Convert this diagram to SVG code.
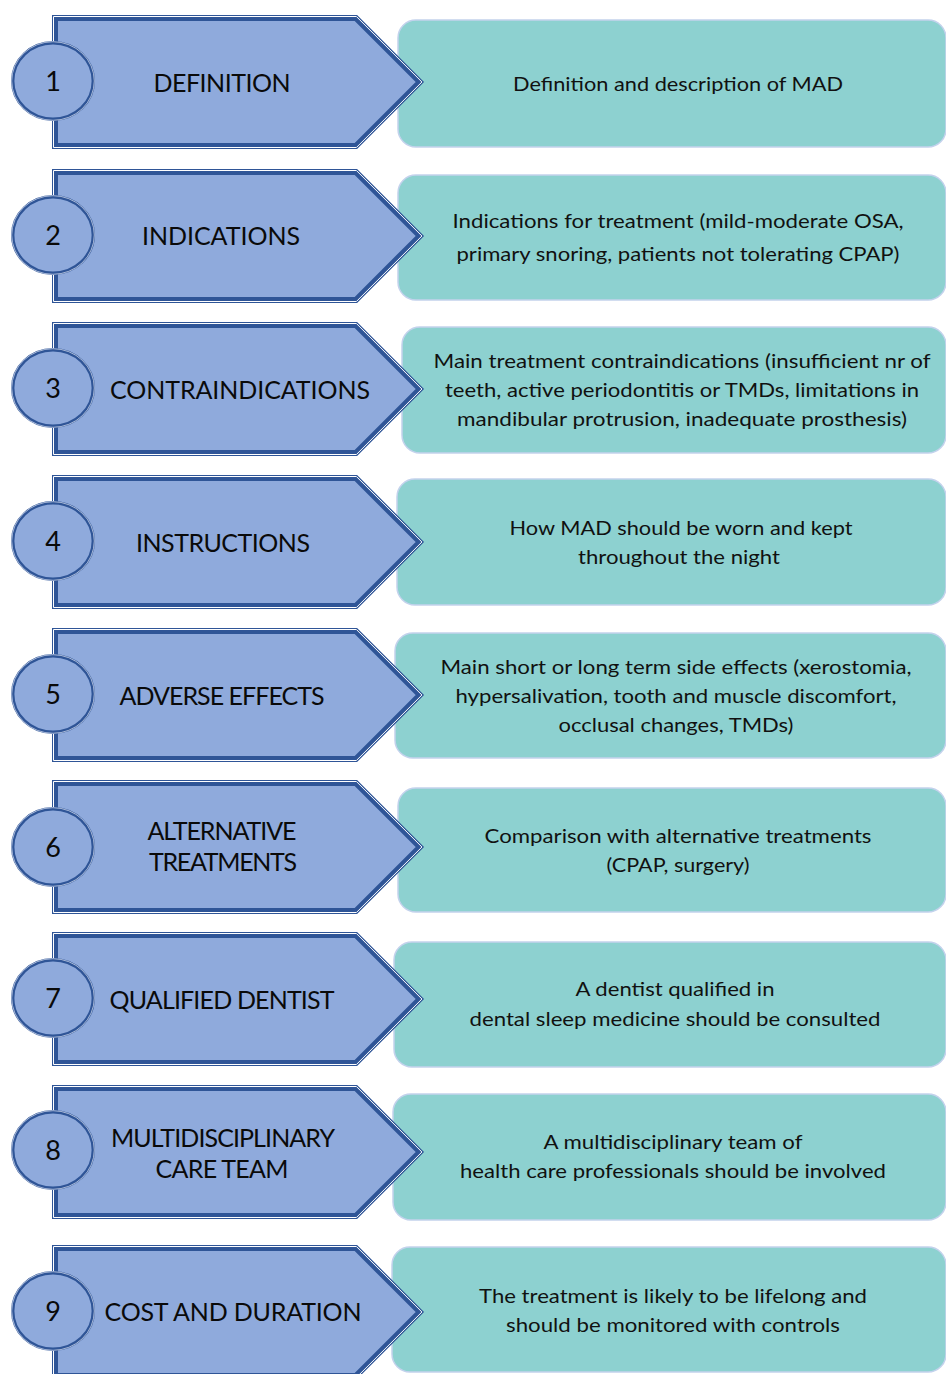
<svg xmlns="http://www.w3.org/2000/svg" xmlns:xlink="http://www.w3.org/1999/xlink" width="946" height="1374" viewBox="0 0 946 1374">
<style>
.box{fill:#8DD1D0;stroke:#C3D2EC;stroke-width:1.5}
.lbl{font-family:Lato,"Liberation Sans",sans-serif;font-size:25px;fill:#0a0a0a;text-anchor:middle}
.num{font-family:Lato,"Liberation Sans",sans-serif;font-size:27px;fill:#0a0a0a;text-anchor:middle}
.desc{font-family:Lato,"Open Sans","Liberation Sans",sans-serif;font-size:20px;fill:#111;text-anchor:middle}
</style>
<defs>
<g id="pent">
<polygon points="55,-64 355.8,-64 419.8,0 355.8,64 55,64" fill="#8FAADC" stroke="#2F5597" stroke-width="6" stroke-linejoin="miter"/>
<polygon points="53.5,-65.5 356.4,-65.5 421.9,0 356.4,65.5 53.5,65.5" fill="none" stroke="#ffffff" stroke-width="1" stroke-linejoin="miter"/>
</g>
<g id="badge">
<ellipse cx="53" cy="0" rx="40.3" ry="38.3" fill="#8FAADC" stroke="#2F5597" stroke-width="3.4"/>
<ellipse cx="53" cy="0" rx="41.3" ry="39.3" fill="none" stroke="#DCE4F4" stroke-width="0.7"/>
</g>
</defs>
<rect width="946" height="1374" fill="#ffffff"/>
<g id="connectors"/>

<g id="node1">
<rect class="box" x="398" y="20" width="548" height="127" rx="18"/>
<use xlink:href="#pent" href="#pent" y="82"/>
<use xlink:href="#badge" href="#badge" y="81"/>
<text class="num" x="53" y="91">1</text>
<text class="lbl" x="222" y="92" textLength="137" lengthAdjust="spacing">DEFINITION</text>
<text class="desc" x="678" y="91" textLength="330" lengthAdjust="spacingAndGlyphs">Definition and description of MAD</text>
</g>

<g id="node2">
<rect class="box" x="398" y="175" width="548" height="125" rx="18"/>
<use xlink:href="#pent" href="#pent" y="236"/>
<use xlink:href="#badge" href="#badge" y="235"/>
<text class="num" x="53" y="245">2</text>
<text class="lbl" x="221" y="245" textLength="158" lengthAdjust="spacing">INDICATIONS</text>
<text class="desc" x="678" y="228" textLength="451" lengthAdjust="spacingAndGlyphs">Indications for treatment (mild-moderate OSA,</text>
<text class="desc" x="678" y="261" textLength="443" lengthAdjust="spacingAndGlyphs">primary snoring, patients not tolerating CPAP)</text>
</g>

<g id="node3">
<rect class="box" x="402" y="327" width="544" height="126" rx="18"/>
<use xlink:href="#pent" href="#pent" y="389"/>
<use xlink:href="#badge" href="#badge" y="388"/>
<text class="num" x="53" y="398">3</text>
<text class="lbl" x="240" y="399" textLength="260" lengthAdjust="spacing">CONTRAINDICATIONS</text>
<text class="desc" x="682" y="368" textLength="497" lengthAdjust="spacingAndGlyphs">Main treatment contraindications (insufficient nr of</text>
<text class="desc" x="682" y="397" textLength="474" lengthAdjust="spacingAndGlyphs">teeth, active periodontitis or TMDs, limitations in</text>
<text class="desc" x="682" y="426" textLength="450" lengthAdjust="spacingAndGlyphs">mandibular protrusion, inadequate prosthesis)</text>
</g>

<g id="node4">
<rect class="box" x="397" y="479" width="549" height="126" rx="18"/>
<use xlink:href="#pent" href="#pent" y="542"/>
<use xlink:href="#badge" href="#badge" y="541"/>
<text class="num" x="53" y="551">4</text>
<text class="lbl" x="223" y="552" textLength="174" lengthAdjust="spacing">INSTRUCTIONS</text>
<text class="desc" x="681" y="535" textLength="343" lengthAdjust="spacingAndGlyphs">How MAD should be worn and kept</text>
<text class="desc" x="679" y="564" textLength="202" lengthAdjust="spacingAndGlyphs">throughout the night</text>
</g>

<g id="node5">
<rect class="box" x="395" y="633" width="551" height="125" rx="18"/>
<use xlink:href="#pent" href="#pent" y="695"/>
<use xlink:href="#badge" href="#badge" y="694"/>
<text class="num" x="53" y="704">5</text>
<text class="lbl" x="222" y="705" textLength="205" lengthAdjust="spacing">ADVERSE EFFECTS</text>
<text class="desc" x="676" y="674" textLength="471" lengthAdjust="spacingAndGlyphs">Main short or long term side effects (xerostomia,</text>
<text class="desc" x="676" y="703" textLength="441" lengthAdjust="spacingAndGlyphs">hypersalivation, tooth and muscle discomfort,</text>
<text class="desc" x="676" y="732" textLength="235" lengthAdjust="spacingAndGlyphs">occlusal changes, TMDs)</text>
</g>

<g id="node6">
<rect class="box" x="398" y="788" width="548" height="124" rx="18"/>
<use xlink:href="#pent" href="#pent" y="847"/>
<use xlink:href="#badge" href="#badge" y="847"/>
<text class="num" x="53" y="857">6</text>
<text class="lbl" x="222" y="840" textLength="149" lengthAdjust="spacing">ALTERNATIVE</text>
<text class="lbl" x="223" y="871" textLength="148" lengthAdjust="spacing">TREATMENTS</text>
<text class="desc" x="678" y="843" textLength="387" lengthAdjust="spacingAndGlyphs">Comparison with alternative treatments</text>
<text class="desc" x="678" y="872" textLength="143" lengthAdjust="spacingAndGlyphs">(CPAP, surgery)</text>
</g>

<g id="node7">
<rect class="box" x="394" y="942" width="552" height="125" rx="18"/>
<use xlink:href="#pent" href="#pent" y="999"/>
<use xlink:href="#badge" href="#badge" y="998"/>
<text class="num" x="53" y="1008">7</text>
<text class="lbl" x="222" y="1009" textLength="225" lengthAdjust="spacing">QUALIFIED DENTIST</text>
<text class="desc" x="675" y="996" textLength="199" lengthAdjust="spacingAndGlyphs">A dentist qualified in</text>
<text class="desc" x="675" y="1026" textLength="411" lengthAdjust="spacingAndGlyphs">dental sleep medicine should be consulted</text>
</g>

<g id="node8">
<rect class="box" x="393" y="1094" width="553" height="126" rx="18"/>
<use xlink:href="#pent" href="#pent" y="1152"/>
<use xlink:href="#badge" href="#badge" y="1150"/>
<text class="num" x="53" y="1160">8</text>
<text class="lbl" x="223" y="1147" textLength="224" lengthAdjust="spacing">MULTIDISCIPLINARY</text>
<text class="lbl" x="222" y="1178" textLength="133" lengthAdjust="spacing">CARE TEAM</text>
<text class="desc" x="673" y="1149" textLength="259" lengthAdjust="spacingAndGlyphs">A multidisciplinary team of</text>
<text class="desc" x="673" y="1178" textLength="426" lengthAdjust="spacingAndGlyphs">health care professionals should be involved</text>
</g>

<g id="node9">
<rect class="box" x="392" y="1247" width="554" height="125" rx="18"/>
<use xlink:href="#pent" href="#pent" y="1312"/>
<use xlink:href="#badge" href="#badge" y="1311"/>
<text class="num" x="53" y="1321">9</text>
<text class="lbl" x="233" y="1321" textLength="257" lengthAdjust="spacing">COST AND DURATION</text>
<text class="desc" x="673" y="1303" textLength="388" lengthAdjust="spacingAndGlyphs">The treatment is likely to be lifelong and</text>
<text class="desc" x="673" y="1332" textLength="334" lengthAdjust="spacingAndGlyphs">should be monitored with controls</text>
</g>
</svg>
